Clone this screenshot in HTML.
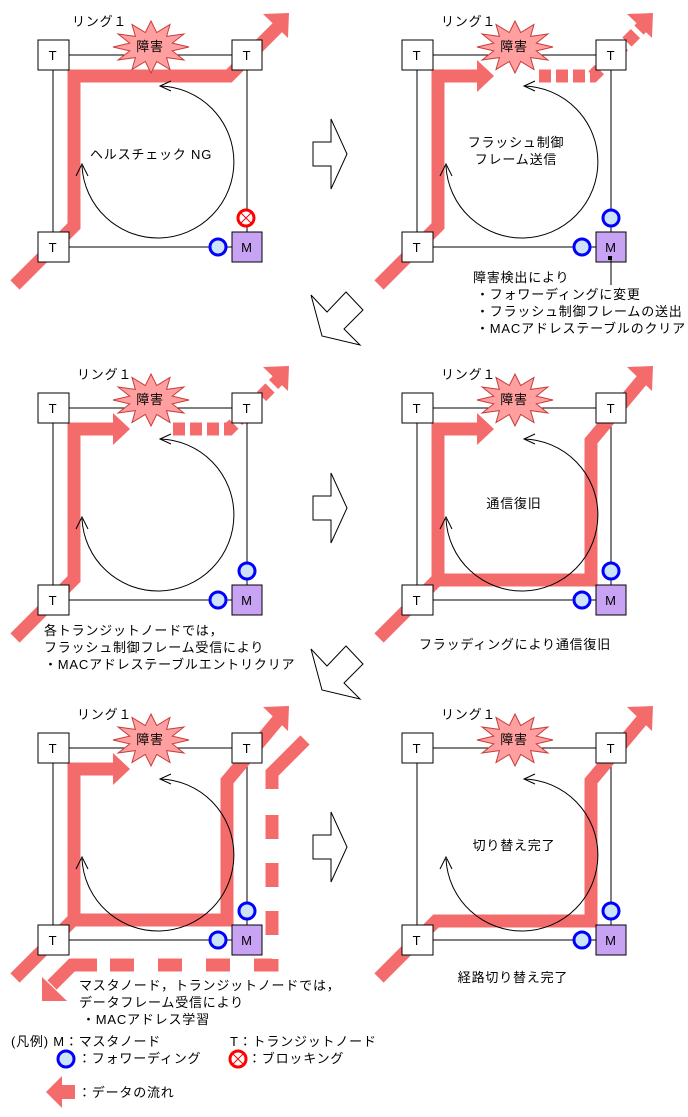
<!DOCTYPE html>
<html><head><meta charset="utf-8"><style>
html,body{margin:0;padding:0;background:#fff;}
svg{display:block;}
text{font-family:"Liberation Sans","Noto Sans CJK JP",sans-serif;font-size:13px;fill:#000;letter-spacing:0.8px;}
.bx{fill:#fff;stroke:#000;stroke-width:1;}
.mx{fill:#c9a3f3;stroke:#000;stroke-width:1;}
.ln{stroke:#000;stroke-width:1;fill:none;}
.rd{stroke:#f46b6b;stroke-width:13;fill:none;}
.rf{fill:#f46b6b;}
.fw{fill:#cde3f8;stroke:#0000ff;stroke-width:3;}
.star{fill:#ff9f9f;stroke:#c83c3c;stroke-width:1;}
</style></head><body>
<svg width="688" height="1117" viewBox="0 0 688 1117" xmlns="http://www.w3.org/2000/svg">
<defs>
<g id="ring">
  <line class="ln" x1="69" y1="55" x2="232" y2="55"/>
  <line class="ln" x1="53" y1="70" x2="53" y2="232"/>
  <line class="ln" x1="247" y1="70" x2="247" y2="232"/>
  <line class="ln" x1="69" y1="247" x2="232" y2="247"/>
</g>
<g id="arc">
  <path class="ln" d="M82,166 A76 76 0 1 0 160 86"/>
  <path class="ln" d="M76,176 L82,164 L88,176"/>
  <path class="ln" d="M171,81 L160,86 L171,91"/>
</g>
<g id="star">
  <polygon class="star" points="189,47 172.3,50.9 183.9,60 166.6,57.6 170,69.5 156.7,61.5 151,73 145.3,61.5 132,69.5 135.4,57.6 118.1,60 129.7,50.9 113,47 129.7,43.1 118.1,34 135.4,36.4 132,24.5 145.3,32.5 151,21 156.7,32.5 170,24.5 166.6,36.4 183.9,34 172.3,43.1"/>
</g>
<g id="headUR"><polygon class="rf" points="263,14 289,13 288,38"/></g>
<g id="topArrow"><polygon class="rf" points="113,60 130,76 113,92"/></g>
</defs>

<!-- Panel 1 -->
<g>
  <use href="#ring"/>
  <polyline class="rd" points="15,285 74,226 74,76 229,76 278,27"/>
  <use href="#headUR"/>
  <use href="#arc"/>
  <use href="#star"/>
  <text x="150" y="51" text-anchor="middle" font-size="15">障害</text>
  <text x="72" y="26">リング１</text>
  <rect class="bx" x="38" y="40" width="31" height="30"/><text x="53" y="60" text-anchor="middle">T</text>
  <rect class="bx" x="232" y="40" width="30" height="30"/><text x="247" y="60" text-anchor="middle">T</text>
  <rect class="bx" x="38" y="232" width="31" height="30"/><text x="53" y="252" text-anchor="middle">T</text>
  <rect class="mx" x="232" y="232" width="30" height="30"/><text x="247" y="252" text-anchor="middle" fill="#333">M</text>
  <text x="90" y="159">ヘルスチェック NG</text>
  <circle cx="246" cy="218" r="8" fill="#fff" stroke="#f00" stroke-width="3"/>
  <path d="M241,213 L251,223 M251,213 L241,223" stroke="#f00" stroke-width="1"/>
  <circle class="fw" cx="218" cy="247" r="8"/>
</g>

<!-- arrows between -->
<polygon class="ln" points="313,142 331,142 331,119 347,154 331,189 331,166 313,166"/>
<polygon class="ln" points="311,295 327,312 346,292 363,310 344,329 360,345 322,336"/>
<g transform="translate(0,354)">
<polygon class="ln" points="313,142 331,142 331,119 347,154 331,189 331,166 313,166"/>
<polygon class="ln" points="311,295 327,312 346,292 363,310 344,329 360,345 322,336"/>
</g>
<g transform="translate(0,693)">
<polygon class="ln" points="313,142 331,142 331,119 347,154 331,189 331,166 313,166"/>
</g>

<!-- Panel 2 -->
<g transform="translate(364,0)">
  <use href="#ring"/>
  <polyline class="rd" points="15,285 74,226 74,76 114,76"/>
  <use href="#topArrow"/>
  <polyline class="rd" points="175,76 229,76 278,27" stroke-dasharray="12,5"/>
  <use href="#headUR"/>
  <use href="#arc"/>
  <use href="#star"/>
  <text x="150" y="51" text-anchor="middle" font-size="15">障害</text>
  <text x="77" y="26">リング１</text>
  <rect class="bx" x="38" y="40" width="31" height="30"/><text x="53" y="60" text-anchor="middle">T</text>
  <rect class="bx" x="232" y="40" width="30" height="30"/><text x="247" y="60" text-anchor="middle">T</text>
  <rect class="bx" x="38" y="232" width="31" height="30"/><text x="53" y="252" text-anchor="middle">T</text>
  <rect class="mx" x="232" y="232" width="30" height="30"/><text x="247" y="252" text-anchor="middle" fill="#333">M</text>
  <rect x="244" y="256" width="4" height="4" fill="#000"/>
  <line class="ln" x1="247" y1="260" x2="247" y2="285"/>
  <text x="152" y="147" text-anchor="middle">フラッシュ制御</text>
  <text x="152" y="164" text-anchor="middle">フレーム送信</text>
  <circle class="fw" cx="247" cy="218" r="8"/>
  <circle class="fw" cx="218" cy="247" r="8"/>
  <text x="109" y="282">障害検出により</text>
  <text x="112" y="299">・フォワーディングに変更</text>
  <text x="112" y="316">・フラッシュ制御フレームの送出</text>
  <text x="112" y="333">・MACアドレステーブルのクリア</text>
</g>

<!-- Panel 3 -->
<g transform="translate(0,353)">
  <use href="#ring"/>
  <polyline class="rd" points="15,285 74,226 74,76 114,76"/>
  <use href="#topArrow"/>
  <polyline class="rd" points="173,76 229,76 278,27" stroke-dasharray="12,5"/>
  <use href="#headUR"/>
  <use href="#arc"/>
  <use href="#star"/>
  <text x="150" y="51" text-anchor="middle" font-size="15">障害</text>
  <text x="77" y="26">リング１</text>
  <rect class="bx" x="38" y="40" width="31" height="30"/><text x="53" y="60" text-anchor="middle">T</text>
  <rect class="bx" x="232" y="40" width="30" height="30"/><text x="247" y="60" text-anchor="middle">T</text>
  <rect class="bx" x="38" y="232" width="31" height="30"/><text x="53" y="252" text-anchor="middle">T</text>
  <rect class="mx" x="232" y="232" width="30" height="30"/><text x="247" y="252" text-anchor="middle" fill="#333">M</text>
  <circle class="fw" cx="247" cy="218" r="8"/>
  <circle class="fw" cx="218" cy="247" r="8"/>
  <text x="44" y="282">各トランジットノードでは，</text>
  <text x="44" y="299">フラッシュ制御フレーム受信により</text>
  <text x="44" y="316">・MACアドレステーブルエントリクリア</text>
</g>

<!-- Panel 4 -->
<g transform="translate(364,353)">
  <use href="#ring"/>
  <polyline class="rd" points="15,285 74,226"/>
  <polyline class="rd" points="114,76 74,76 74,227 227,227 227,88 278,27"/>
  <use href="#topArrow"/>
  <use href="#headUR"/>
  <use href="#arc"/>
  <use href="#star"/>
  <text x="150" y="51" text-anchor="middle" font-size="15">障害</text>
  <text x="77" y="26">リング１</text>
  <rect class="bx" x="38" y="40" width="31" height="30"/><text x="53" y="60" text-anchor="middle">T</text>
  <rect class="bx" x="232" y="40" width="30" height="30"/><text x="247" y="60" text-anchor="middle">T</text>
  <rect class="bx" x="38" y="232" width="31" height="30"/><text x="53" y="252" text-anchor="middle">T</text>
  <rect class="mx" x="232" y="232" width="30" height="30"/><text x="247" y="252" text-anchor="middle" fill="#333">M</text>
  <circle class="fw" cx="247" cy="218" r="8"/>
  <circle class="fw" cx="218" cy="247" r="8"/>
  <text x="150" y="155" text-anchor="middle">通信復旧</text>
  <text x="151" y="296" text-anchor="middle">フラッディングにより通信復旧</text>
</g>

<!-- Panel 5 -->
<g transform="translate(0,693)">
  <use href="#ring"/>
  <polyline class="rd" points="15,285 74,226"/>
  <polyline class="rd" points="114,76 74,76 74,227 227,227 227,88 278,27"/>
  <use href="#topArrow"/>
  <use href="#headUR"/>
  <polyline class="rd" points="305,47 272,80 272,96"/>
  <polyline class="rd" points="272,122 272,272 97,272" stroke-dasharray="24,24"/>
  <polyline class="rd" points="97,272 72,272 52,292"/>
  <polygon class="rf" points="42,284 42,308 67,308"/>
  <use href="#arc"/>
  <use href="#star"/>
  <text x="150" y="51" text-anchor="middle" font-size="15">障害</text>
  <text x="77" y="26">リング１</text>
  <rect class="bx" x="38" y="40" width="31" height="30"/><text x="53" y="60" text-anchor="middle">T</text>
  <rect class="bx" x="232" y="40" width="30" height="30"/><text x="247" y="60" text-anchor="middle">T</text>
  <rect class="bx" x="38" y="232" width="31" height="30"/><text x="53" y="252" text-anchor="middle">T</text>
  <rect class="mx" x="232" y="232" width="30" height="30"/><text x="247" y="252" text-anchor="middle" fill="#333">M</text>
  <circle class="fw" cx="247" cy="218" r="8"/>
  <circle class="fw" cx="218" cy="247" r="8"/>
  <text x="79" y="297">マスタノード，トランジットノードでは，</text>
  <text x="79" y="314">データフレーム受信により</text>
  <text x="82" y="331">・MACアドレス学習</text>
</g>

<!-- Panel 6 -->
<g transform="translate(364,693)">
  <use href="#ring"/>
  <polyline class="rd" points="15,285 72,228 227,228 227,88 278,27"/>
  <use href="#headUR"/>
  <use href="#arc"/>
  <use href="#star"/>
  <text x="150" y="51" text-anchor="middle" font-size="15">障害</text>
  <text x="77" y="26">リング１</text>
  <rect class="bx" x="38" y="40" width="31" height="30"/><text x="53" y="60" text-anchor="middle">T</text>
  <rect class="bx" x="232" y="40" width="30" height="30"/><text x="247" y="60" text-anchor="middle">T</text>
  <rect class="bx" x="38" y="232" width="31" height="30"/><text x="53" y="252" text-anchor="middle">T</text>
  <rect class="mx" x="232" y="232" width="30" height="30"/><text x="247" y="252" text-anchor="middle" fill="#333">M</text>
  <circle class="fw" cx="247" cy="218" r="8"/>
  <circle class="fw" cx="218" cy="247" r="8"/>
  <text x="150" y="157" text-anchor="middle">切り替え完了</text>
  <text x="149" y="289" text-anchor="middle">経路切り替え完了</text>
</g>

<!-- Legend -->
<text x="11" y="1046">(凡例) M：マスタノード</text>
<text x="230" y="1046">T：トランジットノード</text>
<circle class="fw" cx="66" cy="1059" r="8"/>
<text x="78" y="1063">：フォワーディング</text>
<circle cx="238" cy="1059" r="8" fill="#fff" stroke="#f00" stroke-width="3"/>
<path d="M233,1054 L243,1064 M243,1054 L233,1064" stroke="#f00" stroke-width="1"/>
<text x="248" y="1063">：ブロッキング</text>
<polygon class="rf" points="46,1092 62,1076 62,1085 75,1085 75,1099 62,1099 62,1108"/>
<text x="78" y="1097">：データの流れ</text>
</svg>
</body></html>
